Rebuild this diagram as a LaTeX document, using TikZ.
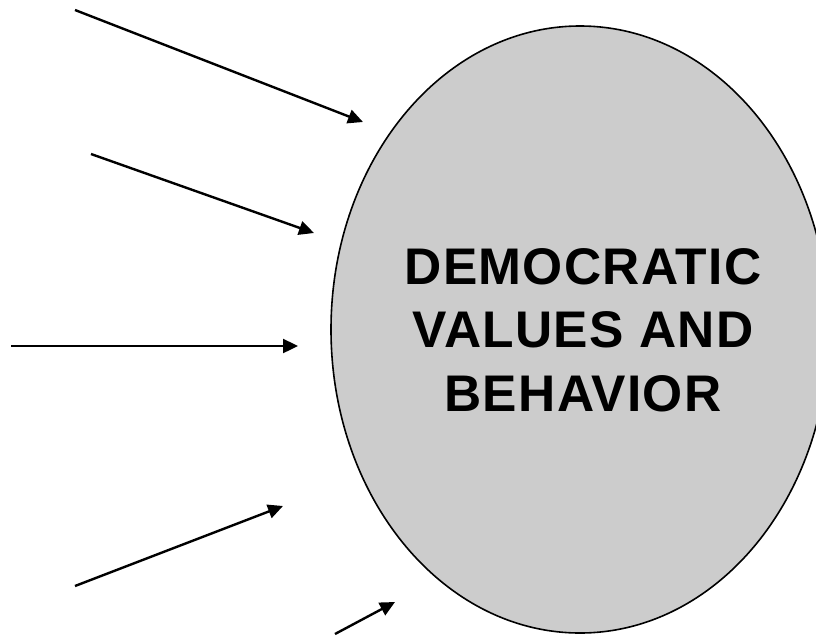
\documentclass[tikz,border=0pt]{standalone}
\usepackage{fontspec}
\setmainfont{Liberation Sans}
\usetikzlibrary{arrows.meta,shapes.geometric}
\definecolor{bubble}{HTML}{CCCCCC}
\tikzset{
  bubblenode/.style={ellipse, draw=black, line width=1.6pt, fill=bubble,
    minimum width=498pt, minimum height=607pt, inner sep=0pt},
  labeltext/.style={align=center, font=\bfseries\fontsize{51.5}{63.5}\selectfont\addfontfeature{LetterSpace=2.5}, inner sep=0pt},
  feed/.style={line width=2.4pt, -{Triangle[length=15pt,width=14pt]}}
}
\begin{document}
\begin{tikzpicture}[x=1pt,y=-1pt]
\useasboundingbox (0,0) rectangle (816,635);
\clip (0,0) rectangle (816,635);
\node[bubblenode] (dem) at (580,329.5) {};
\node[labeltext] (lbl) at (583,330) {DEMOCRATIC\\VALUES AND\\BEHAVIOR};
\coordinate (s1) at (75,10);   \coordinate (e1) at (363,122);
\coordinate (s2) at (91,154);  \coordinate (e2) at (314,233);
\coordinate (s3) at (11,346);  \coordinate (e3) at (298,346);
\coordinate (s4) at (75,586);  \coordinate (e4) at (283,506);
\coordinate (s5) at (335,634); \coordinate (e5) at (395,602);
\draw[feed] (s1) -- (e1);
\draw[feed] (s2) -- (e2);
\draw[feed] (s3) -- (e3);
\draw[feed] (s4) -- (e4);
\draw[feed] (s5) -- (e5);
\end{tikzpicture}
\end{document}
